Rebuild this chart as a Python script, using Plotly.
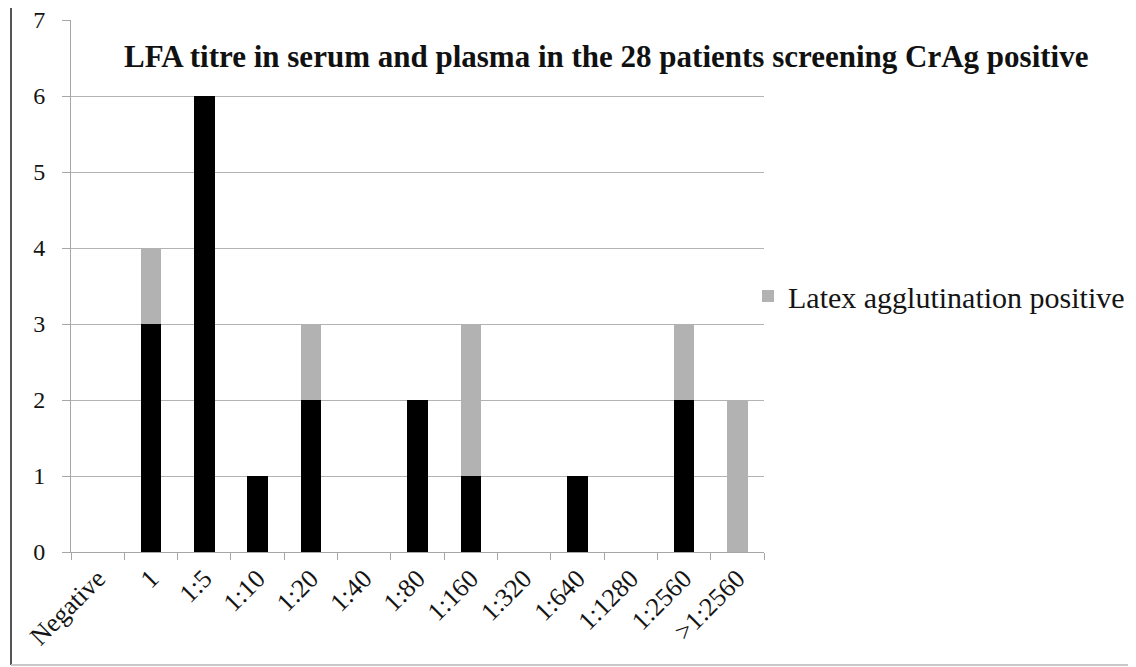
import plotly.graph_objects as go

categories = ["Negative", "1", "1:5", "1:10", "1:20", "1:40", "1:80", "1:160",
              "1:320", "1:640", "1:1280", "1:2560", ">1:2560"]
latex_negative = [0, 3, 6, 1, 2, 0, 2, 1, 0, 1, 0, 2, 0]
latex_positive = [0, 1, 0, 0, 1, 0, 0, 2, 0, 0, 0, 1, 2]
title_text = "LFA titre in serum and plasma in the 28 patients screening CrAg positive"

OFF = 8  # page body margin
W, H = 1136 - OFF, 667 - OFF
L, R, T, B = 71 - OFF, 764 - OFF, 20 - OFF, 552 - OFF

def px_x(x):
    return (x - OFF - L) / (R - L)

def px_y(y):
    return (B - (y - OFF)) / (B - T)

serif = "Liberation Serif"
txt = "#141414"

fig = go.Figure()
fig.add_trace(go.Bar(x=categories, y=latex_negative, name="Latex agglutination negative",
                     marker=dict(color="#000000", line=dict(width=0)), showlegend=False))
fig.add_trace(go.Bar(x=categories, y=latex_positive, name="Latex agglutination positive",
                     marker=dict(color="#b2b2b2", line=dict(width=0))))

fig.update_layout(
    width=W, height=H,
    barmode="stack", bargap=0.615,
    paper_bgcolor="white", plot_bgcolor="white",
    margin=dict(l=L, r=W - R, t=T, b=H - B, pad=0, autoexpand=False),
    font=dict(family=serif, size=22, color=txt),
    legend=dict(x=px_x(748), y=px_y(296), xanchor="left", yanchor="middle",
                font=dict(family=serif, size=30, color=txt),
                bgcolor="rgba(0,0,0,0)", itemwidth=30, tracegroupgap=0),
    xaxis=dict(type="category", tickson="boundaries", ticks="outside", ticklen=7,
               tickcolor="#a6a6a6", showline=True, linecolor="#a6a6a6", linewidth=1,
               tickangle=-45, showgrid=False, automargin=False, ticklabeloverflow="allow",
               tickfont=dict(family=serif, size=26, color=txt)),
    yaxis=dict(range=[0, 7], dtick=1, ticks="outside", ticklen=8, tickcolor="#a6a6a6",
               showline=True, linecolor="#a6a6a6", linewidth=1, showgrid=True,
               gridcolor="#b3b3b3", gridwidth=1, zeroline=False, automargin=False,
               ticklabelstandoff=12, ticklabeloverflow="allow",
               tickfont=dict(family=serif, size=24, color=txt)),
    annotations=[dict(text="<b>" + title_text + "</b>", x=px_x(606), y=px_y(56),
                      xref="paper", yref="paper", xanchor="center", yanchor="middle",
                      showarrow=False, font=dict(family=serif, size=31, color="#111111"))],
    shapes=[
        dict(type="line", xref="paper", yref="paper", x0=px_x(11), x1=px_x(11),
             y0=px_y(7), y1=px_y(665), line=dict(color="#555555", width=2)),
        dict(type="line", xref="paper", yref="paper", x0=px_x(11), x1=px_x(1140),
             y0=px_y(665), y1=px_y(665), line=dict(color="#c8c8c8", width=2)),
    ],
)

fig.write_html("out.html")
